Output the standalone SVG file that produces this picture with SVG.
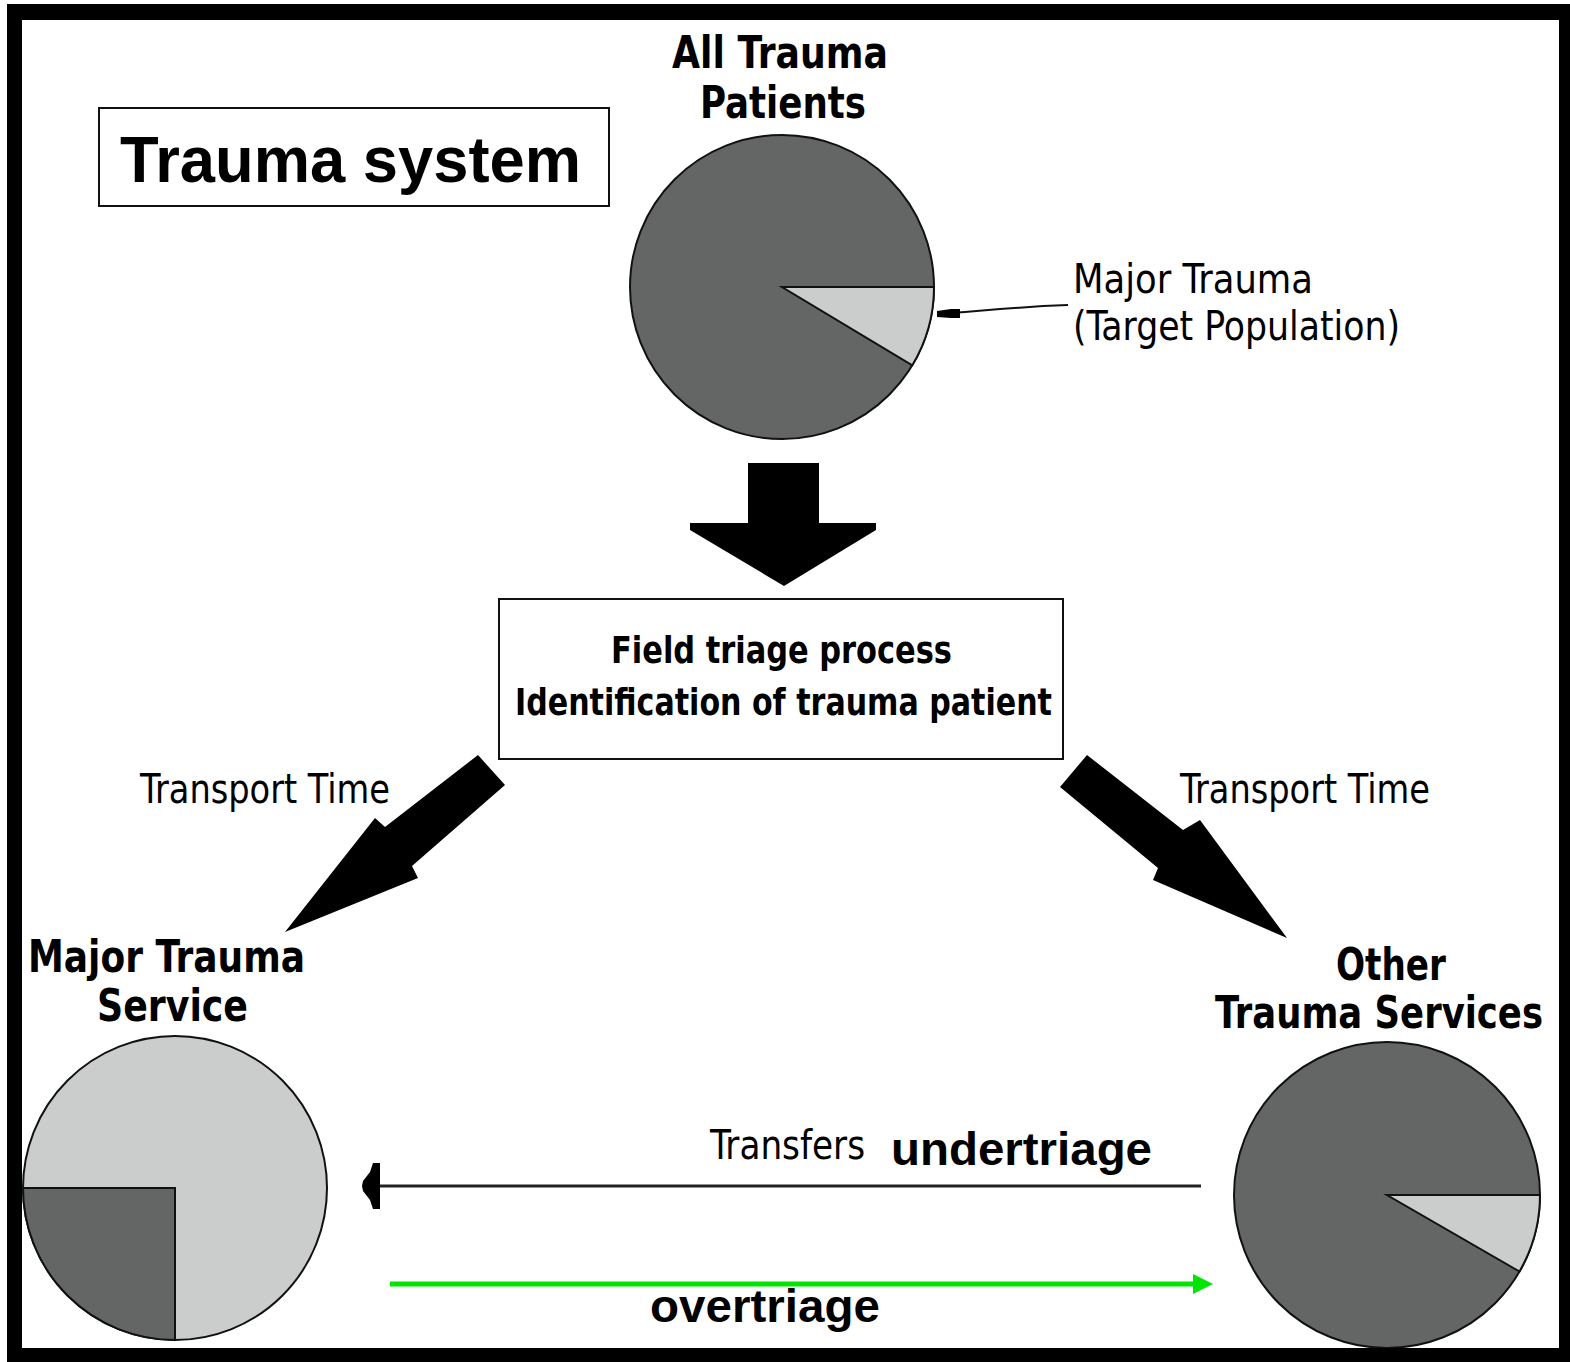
<svg xmlns="http://www.w3.org/2000/svg" width="1570" height="1362" viewBox="0 0 1570 1362">
<style>
.bg{fill:#ffffff}
.frame{fill:#000000;fill-rule:evenodd}
.dark{fill:#646665;stroke:#111;stroke-width:2}
.light{fill:#cbcdcc;stroke:#111;stroke-width:2}
.box{fill:#ffffff;stroke:#111;stroke-width:2}
.arial{font-family:"Liberation Sans",Arial,sans-serif;font-weight:bold;fill:#000}
.cb{font-family:"DejaVu Sans Condensed","DejaVu Sans","Liberation Sans Narrow",sans-serif;font-stretch:condensed;font-weight:bold;fill:#000}
.cn{font-family:"DejaVu Sans Condensed","DejaVu Sans","Liberation Sans Narrow",sans-serif;font-stretch:condensed;font-weight:normal;fill:#000}
.blk{fill:#000}
</style>
<rect class="bg" x="0" y="0" width="1570" height="1362"/>

<g id="title">
<rect class="box" x="99" y="108" width="510" height="98"/>
<text class="arial" x="120" y="182" font-size="65" textLength="461" lengthAdjust="spacingAndGlyphs">Trauma system</text>
</g>

<g id="all-trauma-patients">
<text class="cb" x="672" y="68" font-size="45" textLength="216" lengthAdjust="spacingAndGlyphs">All Trauma</text>
<text class="cb" x="700" y="118" font-size="45" textLength="166" lengthAdjust="spacingAndGlyphs">Patients</text>
<circle class="dark" cx="782" cy="287" r="152"/>
<path class="light" d="M782,287 L934,287 A152,152 0 0 1 912.3,365.3 Z"/>
</g>

<g id="target-population-label">
<text class="cn" x="1073" y="293" font-size="40" textLength="240" lengthAdjust="spacingAndGlyphs">Major Trauma</text>
<text class="cn" x="1073" y="340" font-size="40" textLength="327" lengthAdjust="spacingAndGlyphs">(Target Population)</text>
</g>

<g id="field-triage">
<rect class="box" x="499" y="599" width="564" height="160"/>
<text class="cb" x="611" y="663" font-size="38" textLength="341" lengthAdjust="spacingAndGlyphs">Field triage process</text>
<text class="cb" x="515" y="715" font-size="38" textLength="537" lengthAdjust="spacingAndGlyphs">Identification of trauma patient</text>
</g>

<g id="major-trauma-service">
<text class="cb" x="28" y="972" font-size="44" textLength="277" lengthAdjust="spacingAndGlyphs">Major Trauma</text>
<text class="cb" x="97" y="1021" font-size="44" textLength="151" lengthAdjust="spacingAndGlyphs">Service</text>
<circle class="light" cx="175" cy="1188" r="152"/>
<path class="dark" d="M175,1188 L175,1340 A152,152 0 0 1 23,1188 Z"/>
</g>

<g id="other-trauma-services">
<text class="cb" x="1336" y="980" font-size="45" textLength="110" lengthAdjust="spacingAndGlyphs">Other</text>
<text class="cb" x="1215" y="1028" font-size="45" textLength="328" lengthAdjust="spacingAndGlyphs">Trauma Services</text>
<circle class="dark" cx="1387" cy="1195" r="153"/>
<path class="light" d="M1387,1195 L1540,1195 A153,153 0 0 1 1519.5,1271.5 Z"/>
</g>

<g id="connectors">
<polyline points="1068,305 1043,306 1000,309 965,312 950,313" fill="none" stroke="#111" stroke-width="2"/>
<polygon class="blk" points="937,311 951,309 960,309 960,318 951,318 937,317"/>
<polygon class="blk" points="748,463 819,463 819,523 876,523 876,530 784,586 690,530 690,523 748,523"/>
<polygon class="blk" points="478,755 505,785 412,866 418,878 285,932 375,818 385,827"/>
<polygon class="blk" points="1087,755 1183,830 1200,820 1287,938 1153,880 1158,868 1060,787"/>
<line x1="1201" y1="1186" x2="376" y2="1186" stroke="#222" stroke-width="3"/>
<polygon class="blk" points="380,1163 380,1209 373,1209 370,1200 363,1191 362,1186 363,1181 370,1172 373,1163"/>
<line x1="390" y1="1284" x2="1197" y2="1284" stroke="#00e600" stroke-width="5"/>
<polygon points="1193,1274 1213,1284 1193,1294" fill="#00e600"/>
</g>

<g id="labels">
<text class="cn" x="140" y="803" font-size="40" textLength="250" lengthAdjust="spacingAndGlyphs">Transport Time</text>
<text class="cn" x="1180" y="803" font-size="40" textLength="250" lengthAdjust="spacingAndGlyphs">Transport Time</text>
<text class="cn" x="710" y="1159" font-size="40" textLength="155" lengthAdjust="spacingAndGlyphs">Transfers</text>
<text class="arial" x="891" y="1165" font-size="47" textLength="261" lengthAdjust="spacingAndGlyphs">undertriage</text>
<text class="arial" x="650" y="1322" font-size="47" textLength="230" lengthAdjust="spacingAndGlyphs">overtriage</text>
</g>

<path class="frame" d="M7,4 H1570 V1362 H7 Z M22,20 V1348 H1559 V20 Z"/>
</svg>
